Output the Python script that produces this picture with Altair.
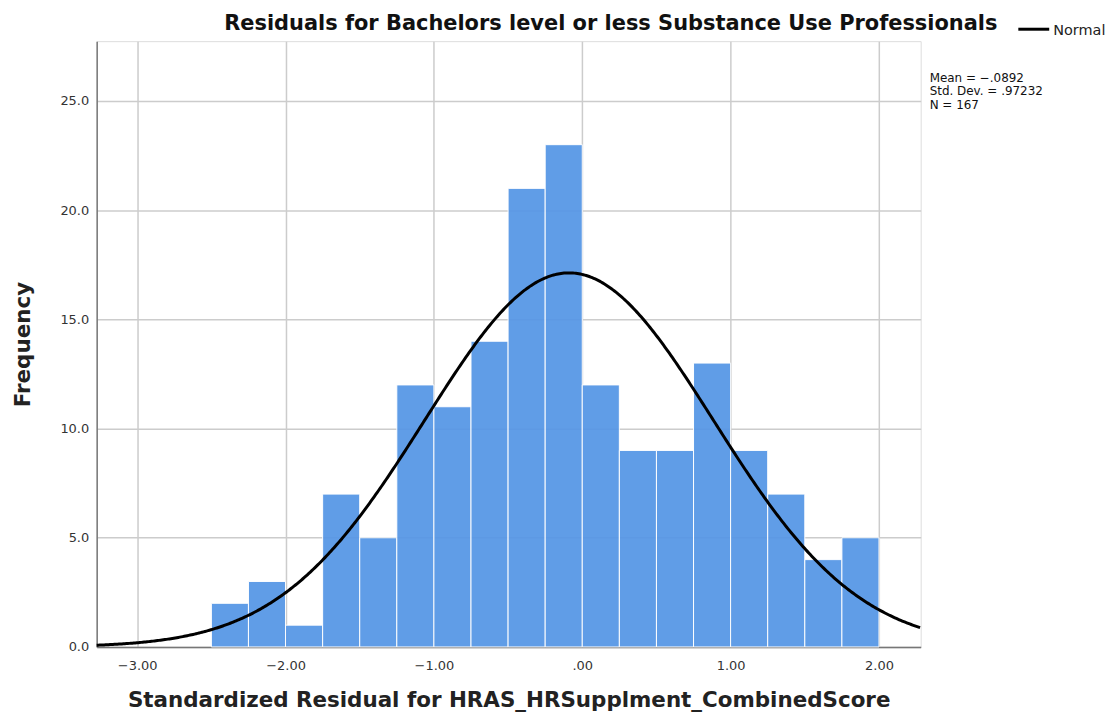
import altair as alt
import pandas as pd

# Histogram bins (width 0.25) and frequencies
bin_start = [-2.5, -2.25, -2.0, -1.75, -1.5, -1.25, -1.0, -0.75, -0.5, -0.25,
             0.0, 0.25, 0.5, 0.75, 1.0, 1.25, 1.5, 1.75]
bin_end = [-2.25, -2.0, -1.75, -1.5, -1.25, -1.0, -0.75, -0.5, -0.25, 0.0,
           0.25, 0.5, 0.75, 1.0, 1.25, 1.5, 1.75, 2.0]
counts = [2, 3, 1, 7, 5, 12, 11, 14, 21, 23, 12, 9, 9, 13, 9, 7, 4, 5]

x_ticks = [-3, -2, -1, 0, 1, 2]
y_ticks = [0, 5, 10, 15, 20, 25]

mean_val = -0.0892
sd_val = 0.97232
n_val = 167
bin_width = 0.25

title_text = "Residuals for Bachelors level or less Substance Use Professionals"
x_title = "Standardized Residual for HRAS_HRSupplment_CombinedScore"
y_title = "Frequency"
stats_text = "Mean = \u2212.0892\nStd. Dev. = .97232\nN = 167"
legend_label = "Normal"

x_domain = [-3.273, 2.281]
y_domain = [0, 27.74]

FONT = "DejaVu Sans"

hist = pd.DataFrame({"start": bin_start, "end": bin_end, "count": counts})

xscale = alt.Scale(domain=x_domain, nice=False, zero=False)
yscale = alt.Scale(domain=y_domain, nice=False)

x_axis = alt.Axis(values=x_ticks, title=x_title, grid=True,
                  labelExpr="datum.value == 0 ? '.00' : format(datum.value, '.2f')",
                  ticks=False, labelPadding=13, titlePadding=17,
                  domainColor="#777777", domainWidth=1.5,
                  gridColor="#cccccc", gridWidth=1.5,
                  labelFont=FONT, labelFontSize=13, labelColor="#333333",
                  titleFont=FONT, titleFontSize=21.5, titleFontWeight="bold",
                  titleColor="#222222")
y_axis = alt.Axis(values=y_ticks, title=y_title, grid=True, format=".1f",
                  ticks=False, labelPadding=8, titlePadding=25,
                  domainColor="#777777", domainWidth=1.5,
                  gridColor="#cccccc", gridWidth=1.5,
                  labelFont=FONT, labelFontSize=13, labelColor="#333333",
                  titleFont=FONT, titleFontSize=21.5, titleFontWeight="bold",
                  titleColor="#222222")

bars = alt.Chart(hist).mark_bar(
    color="#5596e6", stroke="white", strokeWidth=1, opacity=0.93
).encode(
    x=alt.X("start:Q", scale=xscale, axis=x_axis),
    x2="end:Q",
    y=alt.Y("count:Q", scale=yscale, axis=y_axis),
    y2=alt.datum(0),
)

curve = alt.Chart(alt.sequence(-3.273, 2.285, 0.01, as_="x")).transform_calculate(
    y=f"{n_val}*{bin_width}*exp(-0.5*pow((datum.x-({mean_val}))/{sd_val},2))/({sd_val}*sqrt(2*PI))"
).mark_line(color="black", strokeWidth=3).encode(
    x=alt.X("x:Q", scale=xscale, axis=x_axis),
    y=alt.Y("y:Q", scale=yscale, axis=y_axis),
)

one = pd.DataFrame({"k": [0]})

title = alt.Chart(one).mark_text(
    text=title_text, font=FONT, fontSize=21, fontWeight="bold",
    align="center", baseline="middle", color="#111111"
).encode(x=alt.value(516), y=alt.value(-17))

legend_line = alt.Chart(one).mark_rule(color="black", strokeWidth=3).encode(
    x=alt.value(925), x2=alt.value(956), y=alt.value(-12)
)
legend_text = alt.Chart(one).mark_text(
    text=legend_label, font=FONT, fontSize=14.5, align="left", baseline="middle",
    color="#222222"
).encode(x=alt.value(960), y=alt.value(-10))

stats = alt.Chart(one).mark_text(
    text=stats_text, font=FONT, fontSize=12, align="left", baseline="middle",
    lineBreak="\n", lineHeight=13.5, color="#111111"
).encode(x=alt.value(836), y=alt.value(37))

chart = alt.layer(bars, curve, title, legend_line, legend_text, stats).properties(
    width=827, height=608,
    autosize=alt.AutoSizeParams(type="none"),
    padding={"left": 89, "top": 32, "right": 186, "bottom": 70},
).configure_view(strokeWidth=0).configure(background="white")

chart.save("out.html", embed_options={"renderer": "svg", "actions": False})
